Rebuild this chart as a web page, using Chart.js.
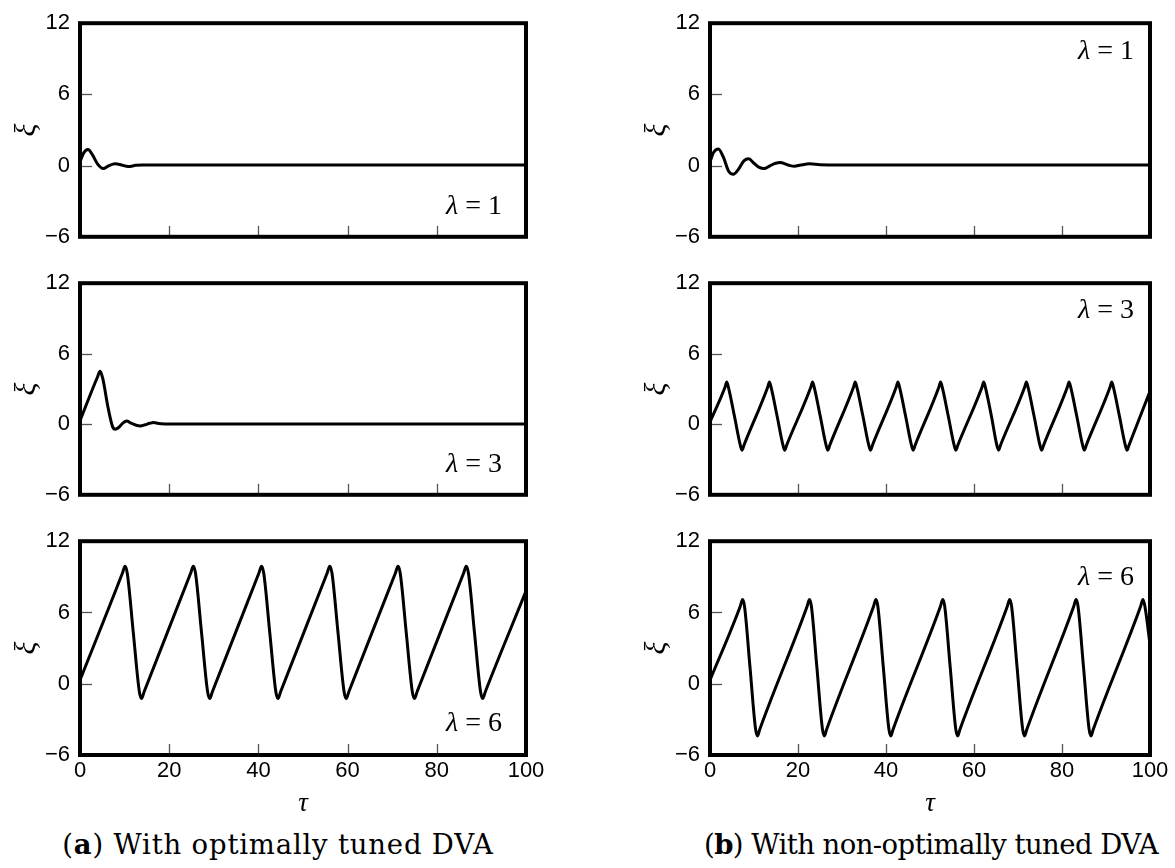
<!DOCTYPE html>
<html><head><meta charset="utf-8">
<script src="https://cdn.jsdelivr.net/npm/chart.js@4.4.0/dist/chart.umd.min.js"></script>
<style>
html,body{margin:0;padding:0;background:#fff}
body{width:1175px;height:868px;position:relative;overflow:hidden}
canvas{position:absolute}
.cap{position:absolute;font-family:"DejaVu Serif",serif;font-size:27.5px;line-height:34px;color:#000;white-space:nowrap;transform:translateX(-50%)}
</style></head><body>
<canvas id="a1"></canvas><canvas id="a2"></canvas><canvas id="a3"></canvas>
<canvas id="b1"></canvas><canvas id="b2"></canvas><canvas id="b3"></canvas>
<div class="cap" style="left:278px;top:827px;letter-spacing:0.8px">(<b>a</b>) With optimally tuned DVA</div>
<div class="cap" style="left:931px;top:827px;letter-spacing:-0.55px">(<b>b</b>) With non-optimally tuned DVA</div>
<script>
// ---- tick values / labels ----
const xTickValues = [0, 20, 40, 60, 80, 100];
const yTickValues = [-6, 0, 6, 12];
const innerXTicks = [20, 40, 60, 80];
const innerYTicks = [0, 6];
const lambdaValues = ['1', '3', '6'];
const xTitle = 'τ';
const yTitle = 'ξ';

// ---- (a) optimally tuned DVA ----
const tau_a1 = [0, 0.8, 1.8, 2.8, 4.0, 5.2, 6.5, 7.9, 9.3, 10.8, 12.5, 14, 20, 100];
const xi_a1  = [0.3, 1.05, 1.35, 0.9, 0.1, -0.25, 0.0, 0.15, 0.05, -0.08, 0.02, 0.05, 0.05, 0.05];

const tau_a2 = [0, 3.9, 4.5, 5.1, 6.3, 7.3, 7.9, 8.6, 9.6, 10.5, 11.4, 12.6, 13.5, 14.6, 15.6, 16.5, 17.6, 19, 22, 100];
const xi_a2  = [0.3, 4.0, 4.5, 3.9, 1.4, -0.2, -0.42, -0.3, 0.1, 0.27, 0.1, -0.08, -0.14, -0.04, 0.08, 0.15, 0.06, 0.03, 0.03, 0.03];

const tau_a3 = [0, 9.5, 10.1, 10.6, 11.95, 13.3, 13.8, 14.4,
  24.8, 25.4, 25.9, 27.25, 28.6, 29.1, 29.7,
  40.1, 40.7, 41.2, 42.55, 43.9, 44.4, 45.0,
  55.4, 56.0, 56.5, 57.85, 59.2, 59.7, 60.3,
  70.7, 71.3, 71.8, 73.15, 74.5, 75.0, 75.6,
  86.0, 86.6, 87.1, 88.45, 89.8, 90.3, 90.9, 100];
const xi_a3 = [0.3, 9.3, 9.9, 9.3, 4.3, -0.65, -1.25, -0.65,
  9.3, 9.9, 9.3, 4.3, -0.65, -1.25, -0.65,
  9.3, 9.9, 9.3, 4.3, -0.65, -1.25, -0.65,
  9.3, 9.9, 9.3, 4.3, -0.65, -1.25, -0.65,
  9.3, 9.9, 9.3, 4.3, -0.65, -1.25, -0.65,
  9.3, 9.9, 9.3, 4.3, -0.65, -1.25, -0.65, 7.8];

// ---- (b) non-optimally tuned DVA ----
const tau_b1 = [0, 0.8, 1.9, 3.0, 4.2, 5.3, 6.5, 7.7, 8.8, 10.0, 11.2, 12.3, 13.6, 14.9, 16.0, 17.2, 18.2, 19.2, 20.6, 22.7, 25, 30, 100];
const xi_b1  = [0.3, 1.1, 1.4, 0.75, -0.45, -0.73, -0.3, 0.4, 0.57, 0.2, -0.15, -0.25, -0.02, 0.2, 0.27, 0.12, 0.0, -0.05, 0.05, 0.15, 0.07, 0.05, 0.05];

const tau_b2 = [0, 3.45, 3.8, 4.15, 5.55, 6.9, 7.3, 7.7,
  13.15, 13.5, 13.85, 15.25, 16.6, 17.0, 17.4,
  22.95, 23.3, 23.65, 25.05, 26.4, 26.8, 27.2,
  32.65, 33.0, 33.35, 34.75, 36.1, 36.5, 36.9,
  42.35, 42.7, 43.05, 44.45, 45.8, 46.2, 46.6,
  52.05, 52.4, 52.75, 54.15, 55.5, 55.9, 56.3,
  61.85, 62.2, 62.55, 63.95, 65.2, 65.6, 66.0,
  71.55, 71.9, 72.25, 73.65, 75.0, 75.4, 75.8,
  81.25, 81.6, 81.95, 83.35, 84.7, 85.1, 85.5,
  90.95, 91.3, 91.65, 93.05, 94.4, 94.8, 95.2, 100];
const xi_b2 = [0.2, 3.2, 3.6, 3.2, 0.7, -1.8, -2.2, -1.8,
  3.2, 3.6, 3.2, 0.7, -1.8, -2.2, -1.8,
  3.2, 3.6, 3.2, 0.7, -1.8, -2.2, -1.8,
  3.2, 3.6, 3.2, 0.7, -1.8, -2.2, -1.8,
  3.2, 3.6, 3.2, 0.7, -1.8, -2.2, -1.8,
  3.2, 3.6, 3.2, 0.7, -1.8, -2.2, -1.8,
  3.2, 3.6, 3.2, 0.7, -1.8, -2.2, -1.8,
  3.2, 3.6, 3.2, 0.7, -1.8, -2.2, -1.8,
  3.2, 3.6, 3.2, 0.7, -1.8, -2.2, -1.8,
  3.2, 3.6, 3.2, 0.7, -1.8, -2.2, -1.8, 2.8];

const tau_b3 = [0, 6.9, 7.4, 7.85, 9.1, 10.35, 10.8, 11.3,
  22.1, 22.6, 23.05, 24.3, 25.55, 26.0, 26.5,
  37.2, 37.7, 38.15, 39.4, 40.65, 41.1, 41.6,
  52.4, 52.9, 53.35, 54.6, 55.85, 56.3, 56.8,
  67.6, 68.1, 68.55, 69.8, 71.05, 71.5, 72.0,
  82.7, 83.2, 83.65, 84.9, 86.15, 86.6, 87.1,
  97.9, 98.4, 98.85, 100];
const xi_b3 = [0.3, 6.55, 7.1, 6.5, 1.35, -3.8, -4.4, -3.85,
  6.55, 7.1, 6.5, 1.35, -3.8, -4.4, -3.85,
  6.55, 7.1, 6.5, 1.35, -3.8, -4.4, -3.85,
  6.55, 7.1, 6.5, 1.35, -3.8, -4.4, -3.85,
  6.55, 7.1, 6.5, 1.35, -3.8, -4.4, -3.85,
  6.55, 7.1, 6.5, 1.35, -3.8, -4.4, -3.85,
  6.55, 7.1, 6.5, 3.3];

// ---- layout (styling only) ----
const tickFont = {family: '"Liberation Sans Narrow","Liberation Sans",Arial,sans-serif', size: 22};
const rows = [
  {top: 0,   height: 260, padTop: 22, xH: 17, showX: false},
  {top: 260, height: 258, padTop: 18, xH: 20, showX: false},
  {top: 518, height: 302, padTop: 14, xH: 65, showX: true}
];
const cols = [
  {left: 0,   width: 560, padRight: 34, labelTop: false, dx: 24, dy: [30, 30, 31]},
  {left: 630, width: 545, padRight: 25, labelTop: true,  dx: 16, dy: [28, 27, 36]}
];
const panels = [
  {id: 'a1', c: 0, r: 0, tau: tau_a1, xi: xi_a1},
  {id: 'a2', c: 0, r: 1, tau: tau_a2, xi: xi_a2},
  {id: 'a3', c: 0, r: 2, tau: tau_a3, xi: xi_a3},
  {id: 'b1', c: 1, r: 0, tau: tau_b1, xi: xi_b1},
  {id: 'b2', c: 1, r: 1, tau: tau_b2, xi: xi_b2},
  {id: 'b3', c: 1, r: 2, tau: tau_b3, xi: xi_b3}
];

const framePlugin = {
  id: 'frame',
  afterDatasetsDraw(chart, args, opts) {
    const {ctx, chartArea: a, scales: {x, y}} = chart;
    ctx.save();
    ctx.strokeStyle = '#555'; ctx.lineWidth = 1.3;
    innerXTicks.forEach(v => {
      const px = Math.round(x.getPixelForValue(v)) + 0.5;
      ctx.beginPath(); ctx.moveTo(px, a.bottom); ctx.lineTo(px, a.bottom - 11); ctx.stroke();
    });
    innerYTicks.forEach(v => {
      const py = Math.round(y.getPixelForValue(v)) + 0.5;
      ctx.beginPath(); ctx.moveTo(a.left, py); ctx.lineTo(a.left + 12, py); ctx.stroke();
    });
    ctx.strokeStyle = '#000'; ctx.lineWidth = 4;
    ctx.strokeRect(a.left, a.top, a.right - a.left, a.bottom - a.top);
    // lambda label
    const rest = ' = ' + opts.value;
    ctx.fillStyle = '#000'; ctx.textBaseline = 'middle'; ctx.textAlign = 'left';
    ctx.font = '28px "Liberation Serif", serif';
    const wRest = ctx.measureText(rest).width;
    ctx.font = 'italic 28px "Liberation Serif", serif';
    const wLam = ctx.measureText('λ').width;
    const xEnd = a.right - opts.dx;
    const yc = opts.top ? a.top + opts.dy : a.bottom - opts.dy;
    ctx.fillText('λ', xEnd - wRest - wLam, yc);
    ctx.font = '28px "Liberation Serif", serif';
    ctx.fillText(rest, xEnd - wRest, yc);
    ctx.restore();
  }
};

panels.forEach(p => {
  const row = rows[p.r], col = cols[p.c];
  const cv = document.getElementById(p.id);
  cv.width = col.width; cv.height = row.height;
  cv.style.left = col.left + 'px'; cv.style.top = row.top + 'px';
  cv.style.width = col.width + 'px'; cv.style.height = row.height + 'px';
  new Chart(cv, {
    type: 'line',
    data: {datasets: [{
      data: p.tau.map((t, i) => ({x: t, y: p.xi[i]})),
      borderColor: '#000', borderWidth: 3, pointRadius: 0,
      cubicInterpolationMode: 'monotone', fill: false
    }]},
    options: {
      responsive: false, animation: false, devicePixelRatio: 1,
      layout: {padding: {top: row.padTop, right: col.padRight, bottom: 0, left: 0}},
      plugins: {legend: {display: false}, tooltip: {enabled: false},
        frame: {value: lambdaValues[p.r], top: col.labelTop, dx: col.dx, dy: col.dy[p.r]}},
      scales: {
        x: {
          type: 'linear', min: 0, max: 100,
          afterBuildTicks: s => { s.ticks = xTickValues.map(v => ({value: v})); },
          grid: {display: false, drawTicks: false}, border: {display: false},
          ticks: {display: row.showX, font: tickFont, color: '#000', padding: 3, maxRotation: 0, autoSkip: false},
          title: {display: row.showX, text: xTitle, color: '#000',
            font: {family: '"Liberation Serif", serif', size: 27, style: 'italic'}, padding: {top: 0, bottom: 0}},
          afterFit: s => { s.height = row.xH; }
        },
        y: {
          min: -6, max: 12,
          afterBuildTicks: s => { s.ticks = yTickValues.map(v => ({value: v})); },
          grid: {display: false, drawTicks: false}, border: {display: false},
          ticks: {font: tickFont, color: '#000', padding: 10,
            callback: v => v < 0 ? '\u2212' + Math.abs(v) : String(v)},
          title: {display: true, text: yTitle, color: '#000',
            font: {family: '"Liberation Serif", serif', size: 30, style: 'italic'}, padding: {top: 9, bottom: 0}},
          afterFit: s => { s.width = 80; }
        }
      }
    },
    plugins: [framePlugin]
  });
});
</script>
</body></html>
